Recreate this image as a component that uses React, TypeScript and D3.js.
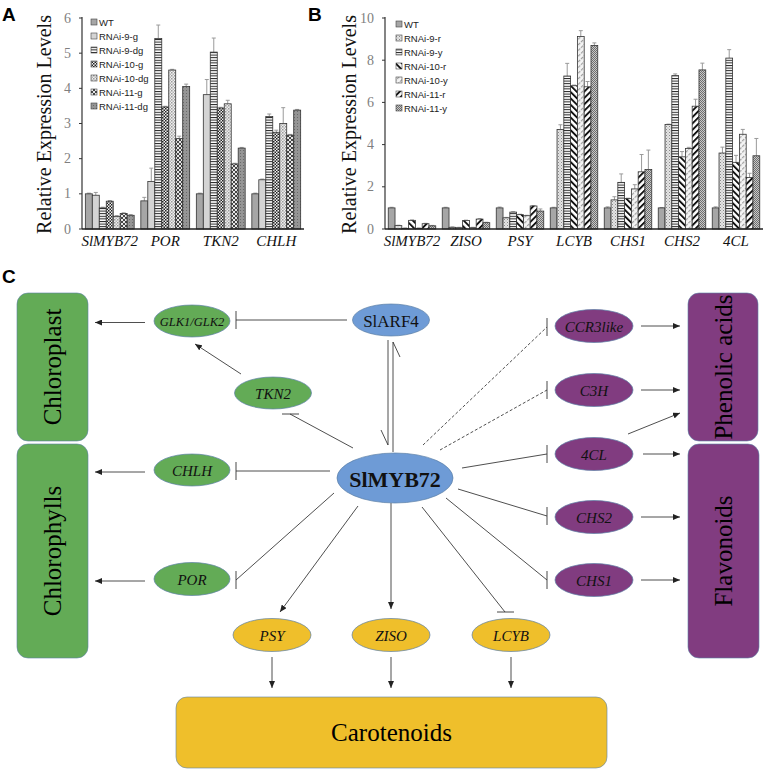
import React from 'react';
import * as d3 from 'd3';

// ---------- Panel A data ----------
const genesA = ['SlMYB72', 'POR', 'TKN2', 'CHLH'];
const seriesA = ['WT', 'RNAi-9-g', 'RNAi-9-dg', 'RNAi-10-g', 'RNAi-10-dg', 'RNAi-11-g', 'RNAi-11-dg'];
const valuesA = [
  [1.0, 0.96, 0.6, 0.79, 0.36, 0.44, 0.39],
  [0.8, 1.35, 5.42, 3.47, 4.52, 2.57, 4.05],
  [1.0, 3.82, 5.03, 3.44, 3.56, 1.85, 2.3],
  [1.0, 1.4, 3.2, 2.75, 3.0, 2.67, 3.38],
];
const errorsA = [
  [0.02, 0.08, 0.02, 0.02, 0.02, 0.02, 0.02],
  [0.1, 0.38, 0.38, 0.02, 0.02, 0.07, 0.07],
  [0.02, 0.43, 0.4, 0.02, 0.1, 0.02, 0.02],
  [0.02, 0.02, 0.07, 0.06, 0.45, 0.02, 0.02],
];
const ticksA = [0, 1, 2, 3, 4, 5, 6];

// ---------- Panel B data ----------
const genesB = ['SlMYB72', 'ZISO', 'PSY', 'LCYB', 'CHS1', 'CHS2', '4CL'];
const seriesB = ['WT', 'RNAi-9-r', 'RNAi-9-y', 'RNAi-10-r', 'RNAi-10-y', 'RNAi-11-r', 'RNAi-11-y'];
const valuesB = [
  [1.0, 0.16, 0.03, 0.41, 0.03, 0.25, 0.15],
  [1.0, 0.08, 0.06, 0.4, 0.06, 0.47, 0.3],
  [1.0, 0.53, 0.8, 0.68, 0.63, 1.09, 0.85],
  [1.0, 4.72, 7.25, 6.79, 9.12, 6.74, 8.7],
  [1.0, 1.38, 2.21, 1.44, 1.9, 2.71, 2.82],
  [1.0, 4.95, 7.27, 3.42, 3.82, 5.82, 7.54],
  [1.0, 3.6, 8.1, 3.16, 4.49, 2.44, 3.47],
];
const errorsB = [
  [0.03, 0.02, 0.02, 0.02, 0.02, 0.02, 0.02],
  [0.03, 0.02, 0.02, 0.02, 0.02, 0.02, 0.02],
  [0.04, 0.02, 0.02, 0.02, 0.02, 0.02, 0.1],
  [0.03, 0.22, 0.6, 0.03, 0.28, 0.25, 0.12],
  [0.05, 0.15, 0.4, 0.02, 0.2, 0.82, 0.92],
  [0.02, 0.02, 0.08, 0.25, 0.05, 0.33, 0.32],
  [0.05, 0.28, 0.4, 0.33, 0.23, 0.2, 0.82],
];
const ticksB = [0, 2, 4, 6, 8, 10];

const fillsA = ['#a6a6a6', '#d4d4d4', 'url(#pHLine)', 'url(#pChkDark)', 'url(#pChkLight)', 'url(#pCross)', 'url(#pGrayDots)'];
const fillsB = ['#a6a6a6', 'url(#pLightDots)', 'url(#pHLine)', 'url(#pBack)', 'url(#pFwdLight)', 'url(#pFwd)', 'url(#pChkGray)'];

// ---------- Panel C data ----------
const boxLabels = ['Chloroplast', 'Chlorophylls', 'Phenolic acids', 'Flavonoids', 'Carotenoids'];
const boxColors = ['#63ab56', '#63ab56', '#813c80', '#813c80', '#efbf2b'];
const nodeLabels = ['GLK1/GLK2', 'TKN2', 'CHLH', 'POR', 'SlARF4', 'SlMYB72', 'CCR3like', 'C3H', '4CL', 'CHS2', 'CHS1', 'PSY', 'ZISO', 'LCYB'];
const nodeColors = ['#63ab56', '#63ab56', '#63ab56', '#63ab56', '#6e9bd6', '#6e9bd6', '#813c80', '#813c80', '#813c80', '#813c80', '#813c80', '#efbf2b', '#efbf2b', '#efbf2b'];

// layout (positions)
const boxLayout = [
  { x: 17, y: 293, w: 71, h: 148, rot: true },
  { x: 17, y: 444, w: 71, h: 214, rot: true },
  { x: 688, y: 293, w: 70, h: 148, rot: true },
  { x: 688, y: 444, w: 71, h: 214, rot: true },
  { x: 176, y: 697, w: 431, h: 71, rot: false },
];
const nodeLayout = [
  { cx: 192, cy: 321, rx: 38, ry: 16, fs: 12.5, it: true, b: false },
  { cx: 273, cy: 393, rx: 38.5, ry: 16, fs: 15, it: true, b: false },
  { cx: 192, cy: 470, rx: 38, ry: 16, fs: 15, it: true, b: false },
  { cx: 192, cy: 579, rx: 38, ry: 16.5, fs: 15, it: true, b: false },
  { cx: 391, cy: 320, rx: 38.5, ry: 16, fs: 17, it: false, b: false },
  { cx: 395, cy: 478, rx: 58, ry: 25, fs: 22, it: false, b: true },
  { cx: 594, cy: 326, rx: 39, ry: 16.5, fs: 15, it: true, b: false },
  { cx: 594, cy: 390, rx: 39, ry: 16.5, fs: 15, it: true, b: false },
  { cx: 594, cy: 454, rx: 39, ry: 16.5, fs: 15, it: true, b: false },
  { cx: 594, cy: 517, rx: 39, ry: 16.5, fs: 15, it: true, b: false },
  { cx: 594, cy: 580, rx: 39, ry: 16.5, fs: 15, it: true, b: false },
  { cx: 272, cy: 635, rx: 39, ry: 16.5, fs: 15, it: true, b: false },
  { cx: 391, cy: 635, rx: 39, ry: 16.5, fs: 15, it: true, b: false },
  { cx: 511, cy: 635, rx: 39, ry: 16.5, fs: 15, it: true, b: false },
];
// arrows [x1,y1,x2,y2]
const arrowLines = [
  [145, 322.5, 95, 322.5],
  [241, 374, 195, 344],
  [145, 472, 95, 472],
  [145, 581, 95, 581],
  [358, 506, 280, 612],
  [391, 503, 391, 609],
  [272, 657, 272, 688],
  [391, 657, 391, 688],
  [511, 657, 511, 688],
  [641, 326, 680, 326],
  [641, 390, 680, 390],
  [628, 434, 680, 413],
  [643, 454, 680, 454],
  [641, 517, 680, 517],
  [641, 580, 680, 580],
];
// inhibitions [x1,y1,x2,y2, barOrientation('v'|'h'), dashed]
const inhibitLines: [number, number, number, number, string, boolean][] = [
  [347, 320, 236, 320, 'v', false],
  [353, 448, 290, 414, 'h', false],
  [330, 471, 236, 471, 'v', false],
  [334, 493, 236, 580, 'v', false],
  [423, 445, 547, 327, 'v', true],
  [440, 450, 547, 390, 'v', true],
  [462, 468, 547, 454, 'v', false],
  [458, 489, 547, 516, 'v', false],
  [446, 498, 547, 580, 'v', false],
  [422, 507, 505, 612, 'h', false],
];

const SERIF = "'Liberation Serif', 'Times New Roman', serif";
const SANS = "'Liberation Sans', Arial, sans-serif";

function BarPanel(props: {
  genes: string[]; series: string[]; values: number[][]; errors: number[][]; ticks: number[];
  fills: string[]; x0: number; x1: number; yMax: number; label: string; labelX: number; titleX: number;
  legendX: number; legendY: number;
}) {
  const { genes, series, values, errors, ticks, fills, x0, x1, yMax, label, labelX, titleX, legendX, legendY } = props;
  const yBase = 229, yTopPx = 18;
  const x = d3.scaleBand<string>().domain(genes).range([x0, x1]).paddingInner(0.12).paddingOuter(0.06);
  const xi = d3.scaleBand<string>().domain(series).range([0, x.bandwidth()]).padding(0);
  const y = d3.scaleLinear().domain([0, yMax]).range([yBase, yTopPx]);
  return (
    <g>
      <text x={labelX} y={21} fontFamily={SANS} fontWeight="bold" fontSize={19} fill="#000">{label}</text>
      <text transform={`translate(${titleX},${(yBase + 12) / 2 + 4}) rotate(-90)`} textAnchor="middle" dominantBaseline="central"
        fontFamily={SERIF} fontSize={20} fill="#111">Relative Expression Levels</text>
      {ticks.map(t => (
        <g key={t}>
          <text x={x0 - 11} y={y(t)} textAnchor="end" dominantBaseline="central" fontFamily={SERIF} fontSize={14} fill="#7f7f7f">{t}</text>
          <line x1={x0 - 3} x2={x0} y1={y(t)} y2={y(t)} stroke="#333" strokeWidth={1} />
        </g>
      ))}
      {genes.map((g, gi) => (
        <g key={g}>
          {series.map((s, si) => {
            const bx = (x(g) as number) + (xi(s) as number);
            const bw = xi.bandwidth();
            const v = values[gi][si];
            const e = errors[gi][si];
            const cx = bx + bw / 2;
            return (
              <g key={s}>
                <line x1={cx} x2={cx} y1={y(v)} y2={y(v + e)} stroke="#9a9a9a" strokeWidth={1} />
                <line x1={cx - 2} x2={cx + 2} y1={y(v + e)} y2={y(v + e)} stroke="#9a9a9a" strokeWidth={1} />
                <rect x={bx} y={y(v)} width={bw} height={yBase - y(v)} fill={fills[si]} stroke="#333" strokeWidth={0.8} />
              </g>
            );
          })}
          <text x={(x(g) as number) + x.bandwidth() / 2} y={246} textAnchor="middle" fontFamily={SERIF} fontStyle="italic" fontSize={15} fill="#111">{g}</text>
        </g>
      ))}
      <line x1={x0} x2={x0} y1={yTopPx - 1} y2={yBase} stroke="#333" strokeWidth={1.2} />
      <line x1={x0} x2={x1} y1={yBase} y2={yBase} stroke="#222" strokeWidth={1.4} />
      {series.map((s, si) => (
        <g key={s}>
          <rect x={legendX} y={legendY + si * 14 - 3} width={6} height={6} fill={fills[si]} stroke="#444" strokeWidth={0.6} />
          <text x={legendX + 8} y={legendY + si * 14} dominantBaseline="central" fontFamily={SANS} fontSize={9.5} fill="#222">{s}</text>
        </g>
      ))}
    </g>
  );
}

function Diagram() {
  return (
    <g>
      <text x={2} y={283} fontFamily={SANS} fontWeight="bold" fontSize={19} fill="#000">C</text>
      {boxLabels.map((b, i) => {
        const L = boxLayout[i];
        const cx = L.x + L.w / 2, cy = L.y + L.h / 2;
        return (
          <g key={b}>
            <rect x={L.x} y={L.y} width={L.w} height={L.h} rx={11} fill={boxColors[i]} stroke="#5b7fa6" strokeWidth={0.6} />
            <text transform={`translate(${cx},${cy})${L.rot ? ' rotate(-90)' : ''}`} textAnchor="middle" dominantBaseline="central"
              fontFamily={SERIF} fontSize={25} fill="#000">{b}</text>
          </g>
        );
      })}
      {arrowLines.map((a, i) => (
        <line key={'a' + i} x1={a[0]} y1={a[1]} x2={a[2]} y2={a[3]} stroke="#222" strokeWidth={0.8} markerEnd="url(#arrowHead)" />
      ))}
      {inhibitLines.map((a, i) => {
        const [x1, y1, x2, y2, o, dashed] = a;
        return (
          <g key={'i' + i}>
            <line x1={x1} y1={y1} x2={x2} y2={y2} stroke="#222" strokeWidth={0.8} strokeDasharray={dashed ? '3,2' : undefined} />
            {o === 'v'
              ? <line x1={x2} x2={x2} y1={y2 - 9} y2={y2 + 9} stroke="#333" strokeWidth={0.9} />
              : <line x1={x2 - 8} x2={x2 + 9} y1={y2} y2={y2} stroke="#333" strokeWidth={0.9} />}
          </g>
        );
      })}
      {/* double harpoon between SlARF4 and SlMYB72 */}
      <line x1={393} y1={342} x2={393} y2={452} stroke="#222" strokeWidth={0.8} />
      <line x1={393} y1={342} x2={400} y2={357} stroke="#222" strokeWidth={0.8} />
      <line x1={388} y1={340} x2={388} y2={445} stroke="#222" strokeWidth={0.8} />
      <line x1={388} y1={445} x2={381} y2={430} stroke="#222" strokeWidth={0.8} />
      {nodeLabels.map((n, i) => {
        const L = nodeLayout[i];
        return (
          <g key={n}>
            <ellipse cx={L.cx} cy={L.cy} rx={L.rx} ry={L.ry} fill={nodeColors[i]} stroke="#5b7fa6" strokeWidth={0.7} />
            <text x={L.cx} y={L.cy + 1} textAnchor="middle" dominantBaseline="central" fontFamily={SERIF}
              fontStyle={L.it ? 'italic' : 'normal'} fontWeight={L.b ? 'bold' : 'normal'} fontSize={L.fs} fill="#111">{n}</text>
          </g>
        );
      })}
    </g>
  );
}

export default function App() {
  return (
    <svg width={769} height={776} viewBox="0 0 769 776" style={{ position: 'absolute', left: 0, top: 0, background: '#fff' }}>
      <defs>
        <marker id="arrowHead" markerUnits="userSpaceOnUse" markerWidth={7} markerHeight={6} refX={7} refY={3} orient="auto">
          <path d="M0,0 L7,3 L0,6 Z" fill="#222" />
        </marker>
        <pattern id="pHLine" patternUnits="userSpaceOnUse" width={4} height={2.6}>
          <rect width={4} height={2.6} fill="#fff" />
          <rect y={0} width={4} height={1} fill="#222" />
        </pattern>
        <pattern id="pChkDark" patternUnits="userSpaceOnUse" width={3} height={3}>
          <rect width={3} height={3} fill="#f2f2f2" />
          <rect x={0} y={0} width={1.5} height={1.5} fill="#222" />
          <rect x={1.5} y={1.5} width={1.5} height={1.5} fill="#222" />
        </pattern>
        <pattern id="pChkLight" patternUnits="userSpaceOnUse" width={3} height={3}>
          <rect width={3} height={3} fill="#efefef" />
          <rect x={0} y={0} width={1.5} height={1.5} fill="#9a9a9a" />
          <rect x={1.5} y={1.5} width={1.5} height={1.5} fill="#b5b5b5" />
        </pattern>
        <pattern id="pCross" patternUnits="userSpaceOnUse" width={4} height={4}>
          <rect width={4} height={4} fill="#e6e6e6" />
          <path d="M0,0 L4,4 M4,0 L0,4" stroke="#333" strokeWidth={0.9} />
        </pattern>
        <pattern id="pGrayDots" patternUnits="userSpaceOnUse" width={3} height={3}>
          <rect width={3} height={3} fill="#959595" />
          <rect x={0} y={0} width={1} height={1} fill="#6a6a6a" />
        </pattern>
        <pattern id="pLightDots" patternUnits="userSpaceOnUse" width={3} height={3}>
          <rect width={3} height={3} fill="#e4e4e4" />
          <rect x={0} y={0} width={1} height={1} fill="#8a8a8a" />
          <rect x={1.5} y={1.5} width={1} height={1} fill="#aaaaaa" />
        </pattern>
        <pattern id="pBack" patternUnits="userSpaceOnUse" width={4.5} height={4.5} patternTransform="rotate(-45)">
          <rect width={4.5} height={4.5} fill="#fff" />
          <rect x={0} width={1.9} height={4.5} fill="#111" />
        </pattern>
        <pattern id="pFwd" patternUnits="userSpaceOnUse" width={4.5} height={4.5} patternTransform="rotate(45)">
          <rect width={4.5} height={4.5} fill="#fff" />
          <rect x={0} width={1.9} height={4.5} fill="#111" />
        </pattern>
        <pattern id="pFwdLight" patternUnits="userSpaceOnUse" width={4} height={4} patternTransform="rotate(45)">
          <rect width={4} height={4} fill="#f4f4f4" />
          <rect x={0} width={1.2} height={3} fill="#a0a0a0" />
        </pattern>
        <pattern id="pChkGray" patternUnits="userSpaceOnUse" width={2} height={2}>
          <rect width={2} height={2} fill="#c8c8c8" />
          <rect x={0} y={0} width={1} height={1} fill="#6e6e6e" />
          <rect x={1} y={1} width={1} height={1} fill="#6e6e6e" />
        </pattern>
      </defs>
      <rect width={769} height={776} fill="#fff" />
      <BarPanel genes={genesA} series={seriesA} values={valuesA} errors={errorsA} ticks={ticksA} fills={fillsA}
        x0={82} x1={304} yMax={6} label="A" labelX={2} titleX={44} legendX={91} legendY={22} />
      <BarPanel genes={genesB} series={seriesB} values={valuesB} errors={errorsB} ticks={ticksB} fills={fillsB}
        x0={385} x1={763} yMax={10} label="B" labelX={308} titleX={349} legendX={396} legendY={24} />
      <Diagram />
    </svg>
  );
}
